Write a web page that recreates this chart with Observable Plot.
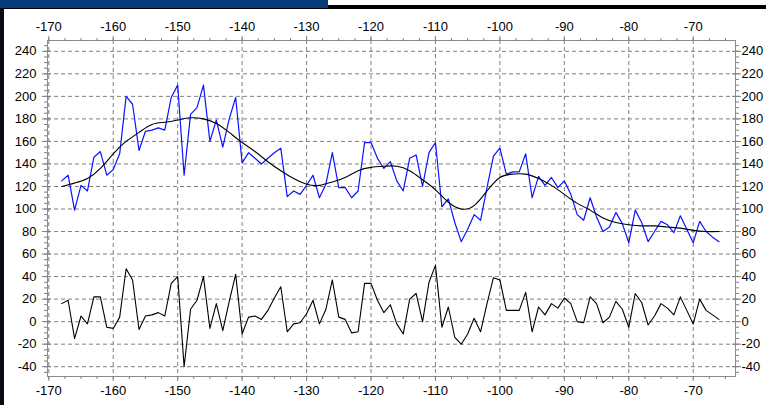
<!DOCTYPE html>
<html>
<head>
<meta charset="utf-8">
<script src="https://cdn.jsdelivr.net/npm/d3@7"></script>
<script src="https://cdn.jsdelivr.net/npm/@observablehq/plot@0.6"></script>
<style>
  html, body { margin: 0; padding: 0; background: #fff; }
  #wrap { position: relative; width: 766px; height: 405px; overflow: hidden; background: #fff; }
  #wrap svg { position: absolute; left: 0; top: 0; }
  .deco { position: absolute; }
</style>
</head>
<body>
<div id="wrap">
  <div class="deco" style="left:0;top:5px;width:766px;height:4px;background:#000;"></div>
  <div class="deco" style="left:0;top:0;width:328px;height:8px;background:#073d7d;"></div>
  <div class="deco" style="left:0;top:8px;width:4px;height:397px;background:#0a0a14;"></div>
</div>
<script>
// ---- data ----
const xValues = [-168,-167,-166,-165,-164,-163,-162,-161,-160,-159,-158,-157,-156,-155,-154,-153,-152,-151,-150,-149,-148,-147,-146,-145,-144,-143,-142,-141,-140,-139,-138,-137,-136,-135,-134,-133,-132,-131,-130,-129,-128,-127,-126,-125,-124,-123,-122,-121,-120,-119,-118,-117,-116,-115,-114,-113,-112,-111,-110,-109,-108,-107,-106,-105,-104,-103,-102,-101,-100,-99,-98,-97,-96,-95,-94,-93,-92,-91,-90,-89,-88,-87,-86,-85,-84,-83,-82,-81,-80,-79,-78,-77,-76,-75,-74,-73,-72,-71,-70,-69,-68,-67,-66];

const rawValues = [125,130,99,121,116,146,151,130,135,149,200,193,152,169,170,172,170,199,210,130,184,190,210,160,179,155,180,199,141,150,145,140,145,150,154,111,116,113,121,130,110,122,150,119,119,110,116,159,159,145,136,142,125,116,145,148,120,150,159,102,109,88,71,82,95,90,119,147,154,131,133,133,149,110,129,121,128,119,125,113,95,90,110,93,80,84,97,87,70,99,88,71,80,89,86,79,94,82,70,89,80,75,71];

const residualValues = [16,19,-15,5,-2,22,22,-5,-6,4,47,37,-7,5,6,8,5,34,40,-40,11,19,40,-6,16,-8,18,42,-11,4,5,2,10,21,31,-9,-2,-1,7,19,-2,11,37,4,2,-10,-9,34,34,19,8,15,-2,-11,20,25,0,35,50,-5,13,-14,-20,-11,3,-9,16,39,37,10,10,10,26,-9,13,6,16,12,21,16,0,-1,22,16,-1,4,18,11,-5,25,17,-3,5,16,12,6,22,10,-2,20,10,6,2];

const smoothX = [-168,-166,-164,-162,-160,-158,-156,-154,-152,-150,-148,-146,-144,-142,-140,-138,-136,-134,-132,-130,-128,-126,-124,-122,-120,-118,-116,-114,-112,-110,-108,-106,-104,-102,-100,-98,-96,-94,-92,-90,-88,-86,-84,-82,-80,-78,-76,-74,-72,-70,-68,-66];
const smoothValues = [120,123,127,136,149,160,168,175,177,179,181,180,176,168,159,151,142,134,127,122,121,124,128,134,137,138,138,134,126,117,106,100,103,116,128,131,131,127,121,113,105,99,92,88,86,85,85,84,83,81,80,80];

const xTickValues = [-170,-160,-150,-140,-130,-120,-110,-100,-90,-80,-70];
const yTickValues = [-40,-20,0,20,40,60,80,100,120,140,160,180,200,220,240];
const xMinorTicks = [-170,-167.5,-165,-162.5,-160,-157.5,-155,-152.5,-150,-147.5,-145,-142.5,-140,-137.5,-135,-132.5,-130,-127.5,-125,-122.5,-120,-117.5,-115,-112.5,-110,-107.5,-105,-102.5,-100,-97.5,-95,-92.5,-90,-87.5,-85,-82.5,-80,-77.5,-75,-72.5,-70,-67.5,-65];
const yMinorTicks = [-45,-40,-35,-30,-25,-20,-15,-10,-5,0,5,10,15,20,25,30,35,40,45,50,55,60,65,70,75,80,85,90,95,100,105,110,115,120,125,130,135,140,145,150,155,160,165,170,175,180,185,190,195,200,205,210,215,220,225,230,235,240,245];

// ---- tables ----
const raw = xValues.map((x, i) => ({x, y: rawValues[i]}));
const resid = xValues.map((x, i) => ({x, y: residualValues[i]}));
const smooth = smoothX.map((x, i) => ({x, y: smoothValues[i]}));

const tickColor = "#808080";
const noLabel = () => "";

const chart = Plot.plot({
  width: 766,
  height: 405,
  marginTop: 40,
  marginLeft: 47,
  marginRight: 31,
  marginBottom: 29,
  x: {domain: [-170.2, -63.44]},
  y: {domain: [-48.7, 249.6]},
  style: {fontFamily: "'Liberation Sans', Arial, sans-serif", fontSize: "13px", color: "#000", background: "transparent"},
  marks: [
    Plot.gridX(xTickValues, {stroke: tickColor, strokeOpacity: 1, strokeDasharray: "4,3"}),
    Plot.gridY(yTickValues, {stroke: tickColor, strokeOpacity: 1, strokeDasharray: "4,3"}),
    Plot.frame({stroke: "#8c8c8c"}),
    // minor ticks
    Plot.axisX(xMinorTicks, {anchor: "top", tickSize: 3, tickFormat: noLabel, stroke: tickColor, label: null}),
    Plot.axisX(xMinorTicks, {anchor: "bottom", tickSize: 3, tickFormat: noLabel, stroke: tickColor, label: null}),
    Plot.axisY(yMinorTicks, {anchor: "left", tickSize: 3, tickFormat: noLabel, stroke: tickColor, label: null}),
    Plot.axisY(yMinorTicks, {anchor: "right", tickSize: 3, tickFormat: noLabel, stroke: tickColor, label: null}),
    // inner major ticks
    Plot.axisY(yTickValues, {anchor: "left", tickSize: -4, tickFormat: noLabel, stroke: tickColor, label: null}),
    Plot.axisY(yTickValues, {anchor: "right", tickSize: -4, tickFormat: noLabel, stroke: tickColor, label: null}),
    // major ticks + labels
    Plot.axisX(xTickValues, {anchor: "top", tickSize: 5, tickPadding: 5, stroke: tickColor, fill: "#000", label: null, tickFormat: d => String(d)}),
    Plot.axisX(xTickValues, {anchor: "bottom", tickSize: 5, tickPadding: 4, stroke: tickColor, fill: "#000", label: null, tickFormat: d => String(d)}),
    Plot.axisY(yTickValues, {anchor: "left", tickSize: 5, tickPadding: 6, stroke: tickColor, fill: "#000", label: null, tickFormat: d => String(d)}),
    Plot.axisY(yTickValues, {anchor: "right", tickSize: 5, tickPadding: 1, stroke: tickColor, fill: "#000", label: null, tickFormat: d => String(d)}),
    // series
    Plot.line(raw, {x: "x", y: "y", stroke: "#0a14ff", strokeWidth: 1.2}),
    Plot.line(smooth, {x: "x", y: "y", stroke: "#000", strokeWidth: 1.1, curve: "natural"}),
    Plot.line(resid, {x: "x", y: "y", stroke: "#000", strokeWidth: 1.1})
  ]
});
document.getElementById("wrap").prepend(chart);
</script>
</body>
</html>
